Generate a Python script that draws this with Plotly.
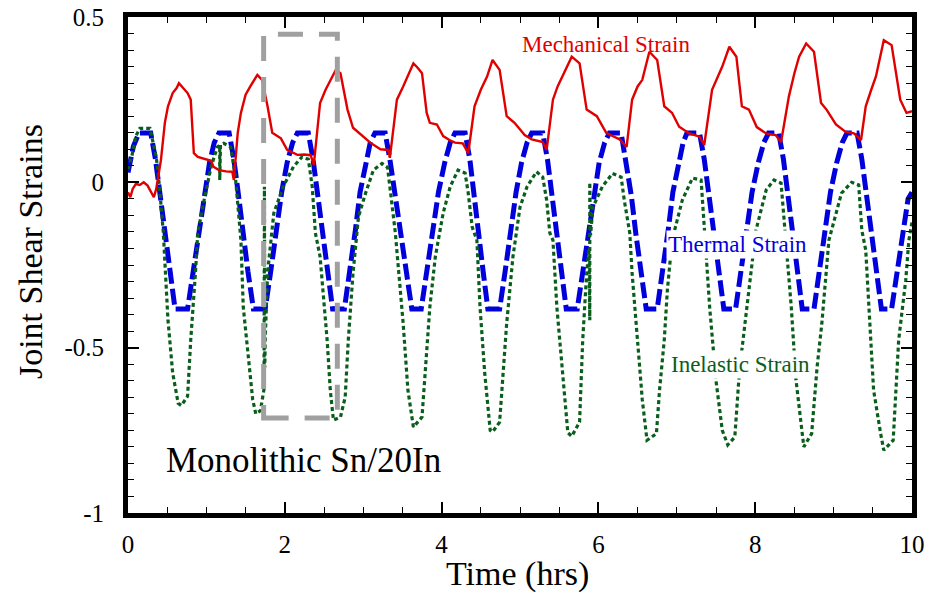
import plotly.graph_objects as go

# ---- Mechanical strain (red, solid) ----
mech_t = [0.00, 0.03, 0.06, 0.10, 0.15, 0.20, 0.25, 0.30, 0.33, 0.36, 0.38, 0.42, 0.47, 0.51, 0.57, 0.62, 0.65,
          0.70, 0.76, 0.80, 0.84, 0.89, 0.95, 1.00, 1.06, 1.09, 1.16, 1.25, 1.33, 1.35,
          1.40, 1.44, 1.50, 1.56, 1.65, 1.71, 1.78, 1.84, 1.90, 1.95, 2.03, 2.10, 2.16, 2.25, 2.33, 2.37,
          2.45, 2.52, 2.58, 2.65, 2.71, 2.80, 2.87, 2.94, 3.00, 3.09, 3.22, 3.32, 3.34,
          3.43, 3.51, 3.58, 3.64, 3.70, 3.75, 3.81, 3.85, 3.94, 4.02, 4.10, 4.17, 4.27, 4.34,
          4.42, 4.50, 4.58, 4.65, 4.74, 4.83, 4.93, 5.00, 5.06, 5.15, 5.29, 5.34,
          5.42, 5.48, 5.54, 5.66, 5.76, 5.85, 5.98, 6.10, 6.18, 6.27, 6.36,
          6.43, 6.50, 6.56, 6.65, 6.75, 6.84, 6.94, 7.03, 7.16, 7.29, 7.35,
          7.45, 7.52, 7.58, 7.67, 7.76, 7.83, 7.92, 8.02, 8.14, 8.26, 8.33,
          8.43, 8.50, 8.56, 8.65, 8.75, 8.84, 8.91, 9.03, 9.15, 9.26, 9.35,
          9.41, 9.48, 9.54, 9.64, 9.74, 9.85, 9.93, 10.00]
mech_v = [-0.030, -0.045, -0.020, -0.005, -0.008, 0.000, -0.010, -0.030, -0.045, -0.020, 0.010, 0.067, 0.180, 0.230, 0.270, 0.285, 0.300,
          0.285, 0.270, 0.250, 0.088, 0.077, 0.072, 0.068, 0.065, 0.047, 0.037, 0.033, 0.032, 0.007,
          0.150, 0.210, 0.265, 0.290, 0.325, 0.310, 0.230, 0.150, 0.140, 0.133, 0.098, 0.090, 0.083, 0.084, 0.082, 0.053,
          0.240, 0.280, 0.310, 0.340, 0.330, 0.220, 0.165, 0.150, 0.140, 0.120, 0.100, 0.098, 0.074,
          0.250, 0.290, 0.330, 0.360, 0.345, 0.330, 0.210, 0.180, 0.175, 0.140, 0.128, 0.120, 0.118, 0.088,
          0.230, 0.280, 0.320, 0.370, 0.340, 0.200, 0.180, 0.160, 0.143, 0.130, 0.122, 0.098,
          0.250, 0.290, 0.320, 0.380, 0.360, 0.220, 0.200, 0.150, 0.140, 0.130, 0.107,
          0.250, 0.290, 0.310, 0.395, 0.370, 0.230, 0.210, 0.168, 0.148, 0.138, 0.113,
          0.280, 0.320, 0.350, 0.410, 0.380, 0.230, 0.220, 0.167, 0.148, 0.143, 0.122,
          0.260, 0.330, 0.380, 0.420, 0.395, 0.240, 0.220, 0.175, 0.153, 0.148, 0.128,
          0.230, 0.280, 0.320, 0.430, 0.415, 0.250, 0.210, 0.215]

# ---- Thermal strain (blue, long dashes) ----
therm_t = [0.00, 0.07, 0.14, 0.29, 0.35, 0.41, 0.47, 0.53, 0.60, 0.76, 0.83, 0.90, 0.97, 1.04, 1.10,
           1.16, 1.29, 1.35, 1.41, 1.47, 1.53, 1.60, 1.75, 1.82, 1.89, 1.96, 2.03, 2.10,
           2.16, 2.30, 2.36, 2.42, 2.48, 2.54, 2.61, 2.76, 2.83, 2.90, 2.96, 3.03, 3.09,
           3.15, 3.28, 3.34, 3.41, 3.48, 3.55, 3.62, 3.74, 3.81, 3.88, 3.96, 4.04, 4.11,
           4.17, 4.30, 4.36, 4.41, 4.47, 4.53, 4.59, 4.74, 4.81, 4.88, 4.95, 5.02, 5.09,
           5.15, 5.29, 5.35, 5.41, 5.47, 5.53, 5.59, 5.73, 5.80, 5.87, 5.94, 6.01, 6.08,
           6.14, 6.29, 6.35, 6.42, 6.48, 6.54, 6.61, 6.75, 6.82, 6.89, 6.95, 7.02, 7.08,
           7.13, 7.29, 7.35, 7.41, 7.47, 7.53, 7.60, 7.75, 7.82, 7.89, 7.96, 8.04, 8.11,
           8.17, 8.30, 8.36, 8.42, 8.48, 8.54, 8.60, 8.75, 8.82, 8.89, 8.96, 9.04, 9.11,
           9.17, 9.30, 9.36, 9.42, 9.48, 9.54, 9.61, 9.74, 9.81, 9.88, 9.95, 10.00]
therm_v = [0.030, 0.110, 0.149, 0.149, 0.070, -0.040, -0.160, -0.270, -0.383, -0.383, -0.270, -0.145, -0.030, 0.060, 0.120,
           0.149, 0.149, 0.070, -0.040, -0.160, -0.270, -0.383, -0.383, -0.270, -0.145, -0.030, 0.060, 0.120,
           0.149, 0.149, 0.070, -0.040, -0.160, -0.270, -0.383, -0.383, -0.270, -0.145, -0.030, 0.060, 0.120,
           0.149, 0.149, 0.070, -0.040, -0.160, -0.270, -0.383, -0.383, -0.270, -0.145, -0.030, 0.060, 0.120,
           0.149, 0.149, 0.070, -0.040, -0.160, -0.270, -0.383, -0.383, -0.270, -0.145, -0.030, 0.060, 0.120,
           0.149, 0.149, 0.070, -0.040, -0.160, -0.270, -0.383, -0.383, -0.270, -0.145, -0.030, 0.060, 0.120,
           0.149, 0.149, 0.070, -0.040, -0.160, -0.270, -0.383, -0.383, -0.270, -0.145, -0.030, 0.060, 0.120,
           0.149, 0.149, 0.070, -0.040, -0.160, -0.270, -0.383, -0.383, -0.270, -0.145, -0.030, 0.060, 0.120,
           0.149, 0.149, 0.070, -0.040, -0.160, -0.270, -0.383, -0.383, -0.270, -0.145, -0.030, 0.060, 0.120,
           0.149, 0.149, 0.070, -0.040, -0.160, -0.270, -0.383, -0.383, -0.270, -0.145, -0.050, -0.030]

# ---- Inelastic strain (green, short dashes) ----
inel_t = [0.00, 0.05, 0.10, 0.15, 0.28, 0.36, 0.40, 0.45, 0.51, 0.57, 0.64, 0.68, 0.76, 0.78, 0.80, 0.86, 0.89, 0.97,
          1.06, 1.14, 1.17, 1.17, 1.18, 1.22, 1.31, 1.37, 1.41, 1.44, 1.47, 1.53, 1.59, 1.63, 1.69, 1.735, 1.74, 1.745,
          1.75, 1.78, 1.86, 1.98, 2.11, 2.22, 2.30, 2.35, 2.39, 2.45, 2.54, 2.58, 2.62, 2.71, 2.77, 2.81, 2.87, 2.94,
          3.03, 3.13, 3.24, 3.31, 3.34, 3.41, 3.51, 3.57, 3.64, 3.75, 3.79, 3.85, 3.92, 4.02, 4.11, 4.21, 4.30, 4.34,
          4.39, 4.45, 4.49, 4.55, 4.62, 4.65, 4.74, 4.78, 4.83, 4.91, 5.00, 5.09, 5.21, 5.29, 5.34, 5.38, 5.42, 5.47,
          5.54, 5.61, 5.66, 5.76, 5.80, 5.85, 5.88, 5.89, 5.89, 5.90, 5.93, 6.05, 6.18, 6.29, 6.33, 6.40, 6.43, 6.50,
          6.56, 6.62, 6.74, 6.78, 6.84, 6.88, 6.94, 7.07, 7.20, 7.31, 7.35, 7.42, 7.50, 7.58, 7.65, 7.74, 7.79, 7.83,
          7.92, 8.01, 8.14, 8.24, 8.33, 8.38, 8.46, 8.52, 8.62, 8.72, 8.79, 8.85, 8.94, 9.10, 9.23, 9.32, 9.36, 9.41,
          9.45, 9.51, 9.60, 9.64, 9.76, 9.83, 9.92, 9.96, 10.00]
inel_v = [0.040, 0.080, 0.140, 0.163, 0.163, 0.077, -0.010, -0.150, -0.417, -0.577, -0.668, -0.675, -0.647, -0.557, -0.477, -0.275, -0.153, -0.054,
          0.047, 0.107, 0.112, 0.007, 0.114, 0.118, 0.107, 0.016, -0.093, -0.175, -0.377, -0.528, -0.656, -0.700, -0.690, -0.625, -0.013, -0.560,
          -0.477, -0.275, -0.093, -0.013, 0.047, 0.077, 0.070, -0.013, -0.153, -0.225, -0.477, -0.628, -0.719, -0.710, -0.650, -0.477, -0.275, -0.104,
          -0.033, 0.037, 0.057, 0.045, -0.013, -0.153, -0.427, -0.628, -0.740, -0.710, -0.577, -0.377, -0.225, -0.093, -0.013, 0.037, 0.028, -0.033,
          -0.135, -0.175, -0.377, -0.577, -0.750, -0.755, -0.725, -0.577, -0.427, -0.225, -0.075, -0.013, 0.032, 0.016, -0.054, -0.153, -0.175, -0.377,
          -0.577, -0.757, -0.768, -0.725, -0.477, -0.275, -0.200, -0.417, 0.000, -0.160, -0.075, -0.013, 0.027, 0.016, -0.054, -0.153, -0.275, -0.477,
          -0.658, -0.780, -0.760, -0.628, -0.477, -0.325, -0.175, -0.054, 0.013, 0.007, -0.145, -0.380, -0.600, -0.750, -0.794, -0.770, -0.600, -0.507,
          -0.325, -0.145, -0.023, 0.007, -0.002, -0.145, -0.377, -0.597, -0.800, -0.760, -0.557, -0.427, -0.175, -0.033, 0.000, -0.008, -0.145, -0.205,
          -0.377, -0.628, -0.760, -0.810, -0.780, -0.477, -0.296, -0.175, -0.120]

# ---- Axis ticks ----
x_ticks = [0, 2, 4, 6, 8, 10]
x_tick_text = ["0", "2", "4", "6", "8", "10"]
y_ticks = [-1, -0.5, 0, 0.5]
y_tick_text = ["-1", "-0.5", "0", "0.5"]

# ---- Highlighted window (one thermal cycle) ----
box_t = [1.73, 2.67]
box_v = [-0.713, 0.448]

SERIF = "Liberation Serif"

fig = go.Figure()
fig.add_trace(go.Scatter(x=therm_t, y=therm_v, mode="lines", name="Thermal Strain",
                         line=dict(color="#0000dd", width=5, dash="16px,5px")))
fig.add_trace(go.Scatter(x=inel_t, y=inel_v, mode="lines", name="Inelastic Strain",
                         line=dict(color="#0a5e1c", width=3.2, dash="4px,3px")))
fig.add_trace(go.Scatter(x=mech_t, y=mech_v, mode="lines", name="Mechanical Strain",
                         line=dict(color="#e00000", width=2.4)))

fig.add_shape(type="rect", x0=box_t[0], x1=box_t[1], y0=box_v[0], y1=box_v[1],
              xref="x", yref="y", layer="above",
              line=dict(color="#a0a0a0", width=5, dash="25px,16px"))

# curve labels
fig.add_annotation(x=6.1, y=0.418, text="Mechanical Strain", showarrow=False,
                   font=dict(family=SERIF, size=23, color="#e00000"))
fig.add_annotation(x=7.77, y=-0.187, text="Thermal Strain", showarrow=False,
                   bgcolor="white", borderpad=1,
                   font=dict(family=SERIF, size=23, color="#0000dd"))
fig.add_annotation(x=7.81, y=-0.552, text="Inelastic Strain", showarrow=False,
                   bgcolor="white", borderpad=1,
                   font=dict(family=SERIF, size=23, color="#0a5e1c"))
fig.add_annotation(x=0.46, y=-0.84, text="Monolithic Sn/20In", showarrow=False,
                   xanchor="left", yanchor="middle",
                   font=dict(family=SERIF, size=35, color="black"))

# axis titles placed in paper coordinates
fig.add_annotation(x=0.497, y=-0.122, xref="paper", yref="paper", text="Time (hrs)",
                   showarrow=False, xanchor="center", yanchor="middle",
                   font=dict(family=SERIF, size=34, color="black"))
fig.add_annotation(x=-0.125, y=0.526, xref="paper", yref="paper", text="Joint Shear Strains",
                   showarrow=False, textangle=-90, xanchor="center", yanchor="middle",
                   font=dict(family=SERIF, size=34, color="black"))

axis_common = dict(
    showline=True, linewidth=5, linecolor="black", mirror="allticks",
    ticks="inside", ticklen=11, tickwidth=1.5, tickcolor="black",
    showgrid=False, zeroline=False, automargin=False,
    tickfont=dict(family=SERIF, size=25, color="black"),
)

fig.update_xaxes(range=[0, 10], tickvals=x_ticks, ticktext=x_tick_text,
                 minor=dict(dtick=0.5, ticks="inside", ticklen=6, tickwidth=1.2, tickcolor="black"),
                 ticklabelstandoff=5,
                 **axis_common)
fig.update_yaxes(range=[-1, 0.5], tickvals=y_ticks, ticktext=y_tick_text,
                 minor=dict(dtick=0.05, ticks="inside", ticklen=6, tickwidth=1.2, tickcolor="black"),
                 ticklabelstandoff=14,
                 **axis_common)

fig.update_layout(width=931, height=597, showlegend=False,
                  font=dict(family=SERIF, color="black"),
                  plot_bgcolor="white", paper_bgcolor="white",
                  margin=dict(l=128, r=19, t=17, b=84))

fig.write_html("out.html")
